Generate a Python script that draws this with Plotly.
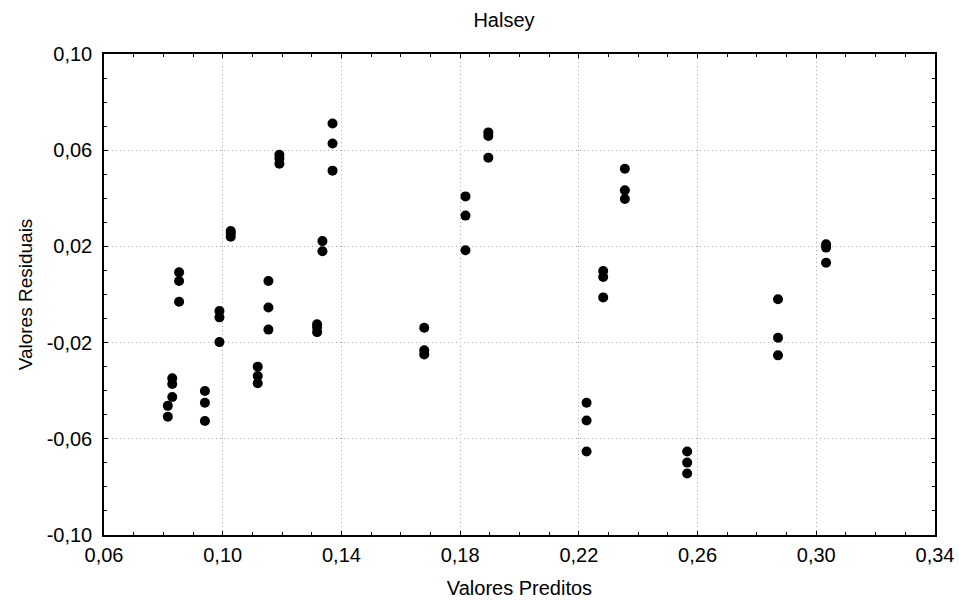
import plotly.graph_objects as go

# Predicted values (x) and residuals (y)
valores_preditos = [
    0.0815, 0.0815,
    0.0830, 0.0830, 0.0830,
    0.0853, 0.0853, 0.0853,
    0.0940, 0.0940, 0.0940,
    0.0989, 0.0989, 0.0989,
    0.1027, 0.1027, 0.1027,
    0.1118, 0.1118, 0.1118,
    0.1154, 0.1154, 0.1154,
    0.1191, 0.1191, 0.1191,
    0.1318, 0.1318, 0.1318,
    0.1336, 0.1336,
    0.1370, 0.1370, 0.1370,
    0.1679, 0.1679, 0.1679,
    0.1818, 0.1818, 0.1818,
    0.1895, 0.1895, 0.1895,
    0.2226, 0.2226, 0.2226,
    0.2282, 0.2282, 0.2282,
    0.2355, 0.2355, 0.2355,
    0.2565, 0.2565, 0.2565,
    0.2871, 0.2871, 0.2871,
    0.3033, 0.3033, 0.3033,
]
valores_residuais = [
    -0.0463, -0.0508,
    -0.0348, -0.0372, -0.0426,
    0.0092, 0.0056, -0.0030,
    -0.0401, -0.0450, -0.0526,
    -0.0069, -0.0095, -0.0198,
    0.0264, 0.0254, 0.0240,
    -0.0300, -0.0339, -0.0369,
    0.0056, -0.0054, -0.0146,
    0.0581, 0.0565, 0.0544,
    -0.0124, -0.0137, -0.0157,
    0.0222, 0.0180,
    0.0711, 0.0628, 0.0515,
    -0.0138, -0.0232, -0.0249,
    0.0408, 0.0328, 0.0184,
    0.0674, 0.0659, 0.0569,
    -0.0450, -0.0524, -0.0653,
    0.0098, 0.0073, -0.0012,
    0.0523, 0.0433, 0.0397,
    -0.0653, -0.0699, -0.0744,
    -0.0020, -0.0180, -0.0253,
    0.0209, 0.0195, 0.0132,
]

# Tick positions and labels
x_ticks = [0.06, 0.10, 0.14, 0.18, 0.22, 0.26, 0.30, 0.34]
x_ticklabels = ["0,06", "0,10", "0,14", "0,18", "0,22", "0,26", "0,30", "0,34"]
y_ticks = [-0.10, -0.06, -0.02, 0.02, 0.06, 0.10]
y_ticklabels = ["-0,10", "-0,06", "-0,02", "0,02", "0,06", "0,10"]

titulo = "Halsey"
titulo_x = "Valores Preditos"
titulo_y = "Valores Residuais"

FONT = "Liberation Sans, Arial, sans-serif"

fig = go.Figure(
    go.Scatter(
        x=valores_preditos,
        y=valores_residuais,
        mode="markers",
        marker=dict(color="black", size=10, line=dict(width=0)),
        showlegend=False,
        hoverinfo="x+y",
    )
)

axis_common = dict(
    showline=True,
    linecolor="black",
    linewidth=1.5,
    mirror="allticks",
    ticks="inside",
    ticklen=4,
    tickcolor="black",
    tickwidth=1,
    showgrid=True,
    gridcolor="#a8a8a8",
    griddash="1px,3px",
    gridwidth=1,
    zeroline=False,
    tickmode="array",
    tickfont=dict(family=FONT, size=20, color="black"),
)

fig.update_xaxes(
    range=[0.06, 0.34],
    tickvals=x_ticks,
    ticktext=x_ticklabels,
    ticklabelstandoff=1,
    minor=dict(tickmode="linear", tick0=0.06, dtick=0.01, ticks="inside", ticklen=3,
               tickcolor="black", showgrid=False),
    title=dict(text=titulo_x, font=dict(family=FONT, size=20, color="black"), standoff=16),
    **axis_common,
)
fig.update_yaxes(
    range=[-0.10, 0.10],
    tickvals=y_ticks,
    ticktext=y_ticklabels,
    ticklabelstandoff=6,
    minor=dict(tickmode="linear", tick0=-0.10, dtick=0.01, ticks="inside", ticklen=3,
               tickcolor="black", showgrid=False),
    title=dict(text=titulo_y, font=dict(family=FONT, size=19, color="black"), standoff=9),
    **axis_common,
)

fig.update_layout(
    width=959,
    height=604,
    paper_bgcolor="white",
    plot_bgcolor="white",
    margin=dict(l=104, r=24, t=54, b=69, autoexpand=False),
    title=dict(
        text=titulo,
        font=dict(family=FONT, size=20, color="black"),
        x=504 / 959,
        xanchor="center",
        xref="container",
        y=1 - 20 / 604,
        yanchor="middle",
        yref="container",
    ),
    font=dict(family=FONT, color="black"),
)

fig.write_html("out.html")
